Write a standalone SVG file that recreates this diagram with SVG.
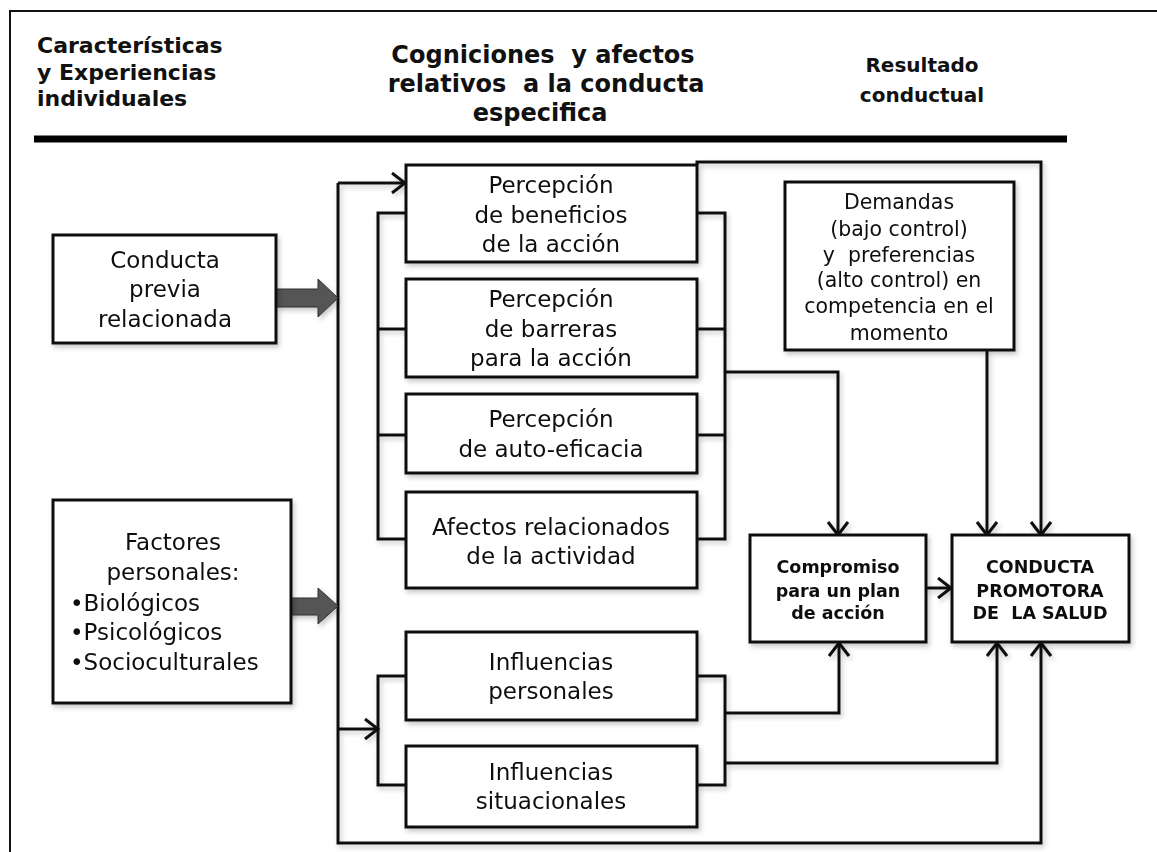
<svg xmlns="http://www.w3.org/2000/svg" width="1157" height="852" viewBox="0 0 1157 852">
<defs>
<style>
.box{fill:#fff;stroke:#111;stroke-width:3}
.t{font-family:"DejaVu Sans",sans-serif;font-size:23px;fill:#111;text-anchor:middle}
.ts{font-family:"DejaVu Sans",sans-serif;font-size:23px;fill:#111;text-anchor:start}
.td{font-family:"DejaVu Sans",sans-serif;font-size:20.5px;fill:#111;text-anchor:middle}
.tb{font-family:"DejaVu Sans",sans-serif;font-size:17.5px;font-weight:bold;fill:#111;text-anchor:middle}
.h{font-family:"DejaVu Sans",sans-serif;font-weight:bold;fill:#111}
.c{fill:none;stroke:#111;stroke-width:3}
.blk{fill:#555;stroke:#333;stroke-width:1}
</style>
<marker id="ar" markerUnits="userSpaceOnUse" viewBox="0 0 16 22" refX="14" refY="11" markerWidth="16" markerHeight="22" orient="auto">
<path d="M1,1 L14,11 L1,21" fill="none" stroke="#111" stroke-width="3"/>
</marker>
<filter id="sh" x="-10%" y="-10%" width="130%" height="130%">
<feDropShadow dx="2" dy="3" stdDeviation="2.5" flood-color="#000" flood-opacity="0.22"/>
</filter>
</defs>
<rect width="1157" height="852" fill="#fff"/>
<g id="frame">
<path d="M10,852 L10,11 L1157,11" fill="none" stroke="#111" stroke-width="2"/>
<line x1="34" y1="139" x2="1067" y2="139" stroke="#000" stroke-width="7"/>
</g>
<g id="headers">
<text class="h" font-size="22" x="37" y="53">Características</text>
<text class="h" font-size="22" x="37" y="80">y Experiencias</text>
<text class="h" font-size="22" x="37" y="106">individuales</text>
<text class="h" font-size="24" x="543" y="63" text-anchor="middle" xml:space="preserve">Cogniciones  y afectos</text>
<text class="h" font-size="24" x="546" y="92" text-anchor="middle" xml:space="preserve">relativos  a la conducta</text>
<text class="h" font-size="24" x="540" y="121" text-anchor="middle">especifica</text>
<text class="h" font-size="20" x="922" y="72" text-anchor="middle">Resultado</text>
<text class="h" font-size="20" x="922" y="102" text-anchor="middle">conductual</text>
</g>
<g id="connectors" filter="url(#sh)">
<path class="c" d="M697,165 L697,162 L1041,162 L1041,535" marker-end="url(#ar)"/>
<path class="c" d="M338,183 L405,183" marker-end="url(#ar)"/>
<path class="c" d="M338,183 L338,843 L1041,843 L1041,643" marker-end="url(#ar)"/>
<path class="c" d="M406,213 L378,213 L378,539 L406,539 M378,329 L406,329 M378,435 L406,435"/>
<path class="c" d="M697,213 L725,213 L725,539 L697,539 M697,329 L725,329 M697,435 L725,435"/>
<path class="c" d="M725,372 L838,372 L838,535" marker-end="url(#ar)"/>
<path class="c" d="M987,350 L987,535" marker-end="url(#ar)"/>
<path class="c" d="M926,588 L951,588" marker-end="url(#ar)"/>
<path class="c" d="M406,676 L378,676 L378,785 L406,785"/>
<path class="c" d="M338,729 L378,729" marker-end="url(#ar)"/>
<path class="c" d="M697,676 L725,676 L725,785 L697,785"/>
<path class="c" d="M725,713 L839,713 L839,643" marker-end="url(#ar)"/>
<path class="c" d="M725,763 L997,763 L997,643" marker-end="url(#ar)"/>
<polygon class="blk" points="276,289 318,289 318,279 338,298 318,317 318,307 276,307"/>
<polygon class="blk" points="275,598 318,598 318,588 338,606 318,624 318,615 275,615"/>
</g>
<g id="conducta-previa" filter="url(#sh)">
<rect class="box" x="53" y="235" width="223" height="108"/>
<text class="t" x="165" y="268">Conducta</text>
<text class="t" x="165" y="297">previa</text>
<text class="t" x="165" y="327">relacionada</text>
</g>
<g id="factores" filter="url(#sh)">
<rect class="box" x="53" y="500" width="238" height="203"/>
<text class="t" x="173" y="550">Factores</text>
<text class="t" x="173" y="580">personales:</text>
<text class="ts" x="70" y="611">•Biológicos</text>
<text class="ts" x="70" y="640">•Psicológicos</text>
<text class="ts" x="70" y="670">•Socioculturales</text>
</g>
<g id="beneficios" filter="url(#sh)">
<rect class="box" x="406" y="165" width="291" height="97"/>
<text class="t" x="551" y="193">Percepción</text>
<text class="t" x="551" y="223">de beneficios</text>
<text class="t" x="551" y="252">de la acción</text>
</g>
<g id="barreras" filter="url(#sh)">
<rect class="box" x="406" y="279" width="291" height="98"/>
<text class="t" x="551" y="307">Percepción</text>
<text class="t" x="551" y="337">de barreras</text>
<text class="t" x="551" y="366">para la acción</text>
</g>
<g id="autoeficacia" filter="url(#sh)">
<rect class="box" x="406" y="394" width="291" height="79"/>
<text class="t" x="551" y="427">Percepción</text>
<text class="t" x="551" y="457">de auto-eficacia</text>
</g>
<g id="afectos" filter="url(#sh)">
<rect class="box" x="406" y="492" width="291" height="96"/>
<text class="t" x="551" y="535">Afectos relacionados</text>
<text class="t" x="551" y="564">de la actividad</text>
</g>
<g id="influencias-personales" filter="url(#sh)">
<rect class="box" x="406" y="632" width="291" height="88"/>
<text class="t" x="551" y="670">Influencias</text>
<text class="t" x="551" y="699">personales</text>
</g>
<g id="influencias-situacionales" filter="url(#sh)">
<rect class="box" x="406" y="746" width="291" height="81"/>
<text class="t" x="551" y="780">Influencias</text>
<text class="t" x="551" y="809">situacionales</text>
</g>
<g id="demandas" filter="url(#sh)">
<rect class="box" x="785" y="182" width="229" height="168"/>
<text class="td" x="899" y="209">Demandas</text>
<text class="td" x="899" y="236">(bajo control)</text>
<text class="td" x="899" y="262" xml:space="preserve">y  preferencias</text>
<text class="td" x="899" y="287">(alto control) en</text>
<text class="td" x="899" y="313">competencia en el</text>
<text class="td" x="899" y="340">momento</text>
</g>
<g id="compromiso" filter="url(#sh)">
<rect class="box" x="750" y="535" width="176" height="107"/>
<text class="tb" x="838" y="573">Compromiso</text>
<text class="tb" x="838" y="597">para un plan</text>
<text class="tb" x="838" y="619">de acción</text>
</g>
<g id="conducta-promotora" filter="url(#sh)">
<rect class="box" x="952" y="535" width="177" height="107"/>
<text class="tb" x="1040" y="573">CONDUCTA</text>
<text class="tb" x="1040" y="597">PROMOTORA</text>
<text class="tb" x="1040" y="619" xml:space="preserve">DE  LA SALUD</text>
</g>
</svg>
